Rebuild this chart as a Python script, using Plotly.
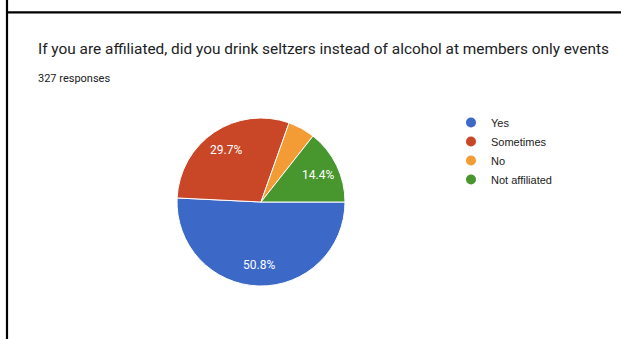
import math
import plotly.graph_objects as go

# Survey answers and response counts
labels = ["Yes", "Sometimes", "No", "Not affiliated"]
counts = [166, 97, 17, 47]
colors = ["#3c68c8", "#c94626", "#f39b35", "#48962e"]
show_label = [True, True, False, True]

title_text = "If you are affiliated, did you drink seltzers instead of alcohol at members only events"
subtitle_text = f"{sum(counts)} responses"

W, H = 621, 339
FONT = "Roboto, Arial, sans-serif"
LEGEND_FONT = "Liberation Sans, Arial, sans-serif"

# pie placement (paper fractions) and slice-label geometry
pie_x = [177 / W, 345 / W]
pie_y = [1 - 286 / H, 1 - 118 / H]
start_deg = 90          # first slice starts at 3 o'clock, going clockwise
label_radius = 0.75     # label distance from centre, as a share of the radius

fig = go.Figure()
fig.add_trace(go.Pie(
    labels=labels,
    values=counts,
    sort=False,
    direction="clockwise",
    rotation=start_deg,
    marker=dict(colors=colors, line=dict(color="white", width=1)),
    textinfo="none",
    hoverinfo="label+value+percent",
    showlegend=False,
    domain=dict(x=pie_x, y=pie_y),
))

# circle legend entries
for name, col in zip(labels, colors):
    fig.add_trace(go.Scatter(
        x=[None], y=[None], mode="markers", name=name,
        marker=dict(symbol="circle", size=10, color=col),
        showlegend=True, hoverinfo="skip",
    ))

# percentage labels placed at each slice's mid-angle
total = sum(counts)
cx_px = (pie_x[0] + pie_x[1]) / 2 * W
cy_px = (1 - (pie_y[0] + pie_y[1]) / 2) * H
radius_px = min((pie_x[1] - pie_x[0]) * W, (pie_y[1] - pie_y[0]) * H) / 2
annotations = []
cum = 0.0
for c, show in zip(counts, show_label):
    frac = c / total
    mid = cum + frac / 2
    cum += frac
    if not show:
        continue
    ang = math.radians(start_deg - 90 - mid * 360)  # clockwise from 3 o'clock
    px = cx_px + label_radius * radius_px * math.cos(ang)
    py = cy_px - label_radius * radius_px * math.sin(ang)
    annotations.append(dict(
        text=f"{frac * 100:.1f}%", x=px / W, y=1 - py / H,
        xref="paper", yref="paper", xanchor="center", yanchor="middle",
        showarrow=False, font=dict(size=12, color="white", family=FONT),
    ))

annotations += [
    dict(text=title_text, x=36 / W, y=1 - 49 / H, xref="paper", yref="paper",
         xanchor="left", yanchor="middle", showarrow=False,
         font=dict(size=15.4, color="#202124", family=FONT)),
    dict(text=subtitle_text, x=36 / W, y=1 - 78 / H, xref="paper", yref="paper",
         xanchor="left", yanchor="middle", showarrow=False,
         font=dict(size=11, color="#202124", family=FONT)),
]

fig.update_layout(
    width=W,
    height=H,
    margin=dict(l=0, r=0, t=0, b=0),
    paper_bgcolor="white",
    plot_bgcolor="white",
    font=dict(family=FONT, color="#202124"),
    xaxis=dict(visible=False),
    yaxis=dict(visible=False),
    showlegend=True,
    legend=dict(
        x=451 / W, y=1 - 108 / H, xanchor="left", yanchor="top",
        font=dict(size=11, color="#1a1a1a", family=LEGEND_FONT),
        itemwidth=30,
        itemsizing="trace",
        bgcolor="rgba(0,0,0,0)",
    ),
    annotations=annotations,
    shapes=[
        dict(type="line", xref="paper", yref="paper", x0=7 / W, x1=1, y0=1 - 12.3 / H, y1=1 - 12.3 / H,
             line=dict(color="black", width=2.2)),
        dict(type="line", xref="paper", yref="paper", x0=7 / W, x1=7 / W, y0=0, y1=1,
             line=dict(color="black", width=2.2)),
    ],
)

fig.write_html("out.html")
